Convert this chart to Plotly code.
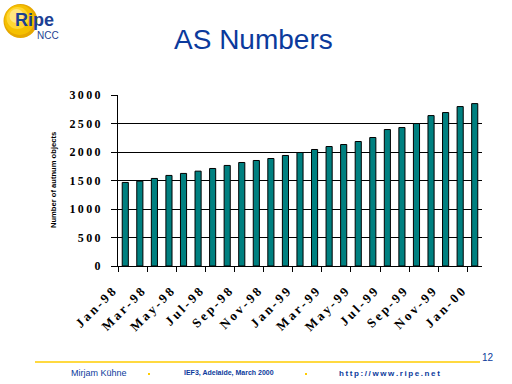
import plotly.graph_objects as go

months = ["Jan-98", "Feb-98", "Mar-98", "Apr-98", "May-98", "Jun-98", "Jul-98", "Aug-98",
          "Sep-98", "Oct-98", "Nov-98", "Dec-98", "Jan-99", "Feb-99", "Mar-99", "Apr-99",
          "May-99", "Jun-99", "Jul-99", "Aug-99", "Sep-99", "Oct-99", "Nov-99", "Dec-99", "Jan-00"]
as_numbers = [1466, 1489, 1536, 1589, 1624, 1664, 1711, 1764, 1816, 1851, 1886, 1939, 1991,
              2044, 2096, 2131, 2184, 2254, 2394, 2429, 2499, 2639, 2692, 2797, 2849]
y_ticks = [0, 500, 1000, 1500, 2000, 2500, 3000]
x_tick_labels = months[::2]

TS = "\u2009"  # thin space (letter spacing of the original)

def spaced(s):
    return TS.join(s)

# plot area in pixels
L, R, T, B = 118, 482, 95, 266
W, H = 512, 384

def px(x):
    return (x - L) / (R - L)

def py(y):
    return (B - y) / (B - T)

idx = list(range(len(months)))
fig = go.Figure()
fig.add_trace(go.Bar(
    x=idx, y=as_numbers, customdata=months,
    hovertemplate="%{customdata}: %{y}<extra></extra>",
    marker=dict(color="#008080", line=dict(color="black", width=1)),
))

blue = "#0b3a9c"

def ann(x, y, text, size, color=blue, weight="normal", family="Liberation Sans, Arial",
        xanchor="left", angle=0):
    return dict(x=px(x), y=py(y), xref="paper", yref="paper", text=text, showarrow=False,
                font=dict(family=family, size=size, color=color, weight=weight),
                xanchor=xanchor, yanchor="middle", textangle=angle)

annotations = [
    ann(253, 39, "AS Numbers", 28, xanchor="center"),
    ann(13, 20, "Ripe", 18, color="#1c3f94", weight="bold"),
    ann(35, 35, "NCC", 10, color="#1c3f94"),
    ann(69, 373, "Mirjam Kühne", 9),
    ann(182, 373, "IEF3, Adelaide, March 2000", 7, weight="bold"),
    ann(337, 373, spaced("http://www.ripe.net"), 8, weight="bold"),
    ann(488, 357, "12", 10, xanchor="center"),
    ann(53, 180, "Number of autnum objects", 7.6, color="black", weight="bold",
        xanchor="center", angle=-90),
]

shapes = []
# logo sphere (layered circles for a simple gradient)
cx, cy, r = 20.5, 21, 17
for col, rr, dx, dy in [("#e6a800", r, 0, 0), ("#f5c000", r - 2, -1, -1),
                        ("#ffd633", r - 6, -3, -3), ("#ffe680", r - 10, -4, -5)]:
    shapes.append(dict(type="circle", xref="paper", yref="paper",
                       x0=px(cx + dx - rr), x1=px(cx + dx + rr),
                       y0=py(cy + dy + rr), y1=py(cy + dy - rr),
                       fillcolor=col, line=dict(width=0), layer="below"))
# footer line
shapes.append(dict(type="line", xref="paper", yref="paper",
                   x0=px(35), x1=px(480), y0=py(362), y1=py(362),
                   line=dict(color="#ffcc00", width=1.5)))
for sx in (149, 306):
    shapes.append(dict(type="rect", xref="paper", yref="paper",
                       x0=px(sx - 1), x1=px(sx + 1), y0=py(375), y1=py(373),
                       fillcolor="#ffcc00", line=dict(width=0)))

fig.update_layout(
    width=W, height=H,
    margin=dict(l=L, r=W - R, t=T, b=H - B),
    paper_bgcolor="white", plot_bgcolor="white",
    showlegend=False,
    bargap=0.58,
    annotations=annotations,
    shapes=shapes,
    xaxis=dict(
        type="linear",
        tickmode="array", tickvals=[i - 0.5 for i in idx[::2]],
        ticktext=[spaced(m) for m in x_tick_labels],
        tickangle=-45,
        tickfont=dict(family="Liberation Serif, Times New Roman", size=13, color="black", weight="bold"),
        showline=True, linecolor="black", linewidth=1,
        ticks="outside", ticklen=5, tickcolor="black",
        showgrid=False, zeroline=False,
        range=[-0.5, len(months) - 0.5],
        automargin=False,
        ticklabelstandoff=7,
        ticklabelshift=-6,
    ),
    yaxis=dict(
        range=[0, 3000],
        tickmode="array", tickvals=y_ticks,
        ticktext=[spaced(str(v)) for v in y_ticks],
        tickfont=dict(family="Liberation Serif, Times New Roman", size=12, color="black", weight="bold"),
        showline=True, linecolor="black", linewidth=1,
        ticks="outside", ticklen=6, tickcolor="black",
        showgrid=True, gridcolor="black", gridwidth=1,
        zeroline=False,
        ticklabelstandoff=8,
        automargin=False,
    ),
)

fig.write_html("out.html", config={"displayModeBar": False},
               post_script="document.body.style.margin='0';")
